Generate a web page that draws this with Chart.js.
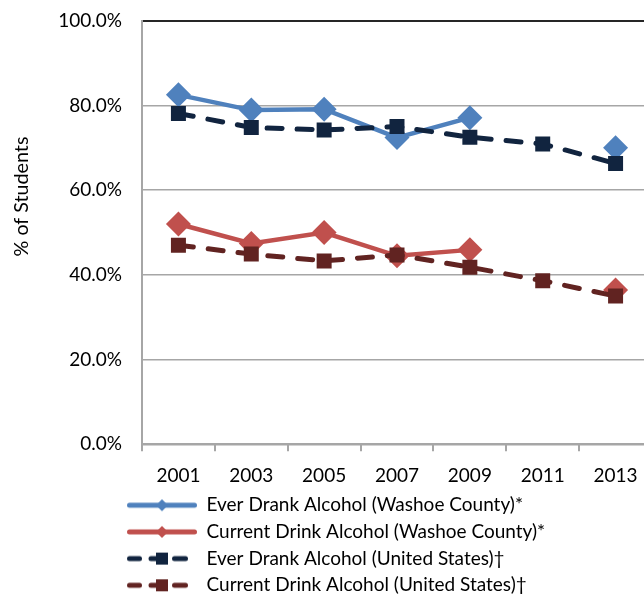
<!DOCTYPE html>
<html><head><meta charset="utf-8">
<script src="https://cdn.jsdelivr.net/npm/chart.js@4/dist/chart.umd.min.js"></script>
<style>
html,body{margin:0;padding:0;overflow:hidden;background:#fff;}
#wrap{position:relative;width:664px;height:594px;}
</style></head><body>
<div id="wrap"><canvas id="c" width="664" height="594"></canvas></div>
<script>
const years = ['2001','2003','2005','2007','2009','2011','2013'];
const washoeEver    = [82.5, 78.9, 79.1, 72.4, 77.1, null, 70.0];
const washoeCurrent = [52.0, 47.4, 50.0, 44.5, 45.9, null, 36.4];
const usEver        = [78.1, 74.8, 74.2, 75.0, 72.5, 70.9, 66.3];
const usCurrent     = [47.0, 44.9, 43.3, 44.7, 41.8, 38.6, 35.0];
const seriesNames = [
  'Ever Drank Alcohol (Washoe County)*',
  'Current Drink Alcohol (Washoe County)*',
  'Ever Drank Alcohol (United States)\u2020',
  'Current Drink Alcohol (United States)\u2020'
];
const yAxisTitle = '% of Students';

const FONT = 'Lato';
const C_BLUE = '#4F81BD', C_RED = '#C0504D', C_NAVY = '#11243F', C_MAROON = '#612321';

function makeSample(color, dashed) {
  const c = document.createElement('canvas');
  c.width = 70; c.height = 16;
  const g = c.getContext('2d');
  g.strokeStyle = color; g.fillStyle = color; g.lineWidth = 5; g.lineCap = 'round';
  const cy = 8;
  if (dashed) {
    [[2.5,12.5],[24,38],[47.5,58.5]].forEach(function(s){ g.beginPath(); g.moveTo(s[0],cy); g.lineTo(s[1],cy); g.stroke(); });
    g.fillRect(29, cy-6, 12, 12);
  } else {
    g.beginPath(); g.moveTo(2.5,cy); g.lineTo(67.5,cy); g.stroke();
    g.beginPath(); g.moveTo(35,cy-6); g.lineTo(41,cy); g.lineTo(35,cy+6); g.lineTo(29,cy); g.closePath(); g.fill();
  }
  return c;
}
const samples = [makeSample(C_BLUE,false), makeSample(C_RED,false), makeSample(C_NAVY,true), makeSample(C_MAROON,true)];

const tweak = {
  id: 'tweak',
  afterLayout(chart) {
    const lg = chart.legend;
    if (lg) {
      lg.left += 119.3; lg.right += 119.3;
      lg.top += -6; lg.bottom = 600; lg.height = lg.bottom - lg.top;
    }
    const ys = chart.scales.y;
    if (ys && !ys._shifted) {
      const orig = ys.drawTitle;
      ys.drawTitle = function() { const ctx = this.ctx; ctx.save(); ctx.translate(0, -36); orig.apply(this, arguments); ctx.restore(); };
      ys._shifted = true;
    }
  }
};

function solid(label, data, color, order) {
  return { label, data, borderColor: color, backgroundColor: color, borderWidth: 4.5, tension: 0,
    pointStyle: 'rectRot', pointRadius: 12.5, pointBorderWidth: 0, pointBackgroundColor: color,
    spanGaps: false, order };
}
function dashed(label, data, color, order) {
  return { label, data, borderColor: color, backgroundColor: color, borderWidth: 5, tension: 0,
    borderDash: [15, 15], borderCapStyle: 'round',
    pointStyle: 'rect', pointRadius: 10.6, pointBorderWidth: 0, pointBackgroundColor: color,
    spanGaps: false, order };
}

new Chart(document.getElementById('c'), {
  type: 'line',
  data: {
    labels: years,
    datasets: [
      solid(seriesNames[0], washoeEver, C_BLUE, 2),
      solid(seriesNames[1], washoeCurrent, C_RED, 2),
      dashed(seriesNames[2], usEver, C_NAVY, 1),
      dashed(seriesNames[3], usCurrent, C_MAROON, 1)
    ]
  },
  options: {
    responsive: false, animation: false, events: [],
    layout: { autoPadding: false, padding: { top: 20.7, right: 12, bottom: 0, left: 0 } },
    plugins: {
      tooltip: { enabled: false },
      legend: {
        position: 'bottom', align: 'start', maxHeight: 100,
        labels: {
          usePointStyle: true, pointStyleWidth: 70, boxHeight: 18, padding: 7.7,
          font: { family: FONT, size: 19 }, color: '#000',
          generateLabels: (chart) => chart.data.datasets.map((ds, i) => ({
            text: ds.label, pointStyle: samples[i], fillStyle: ds.borderColor,
            strokeStyle: ds.borderColor, lineWidth: 0, hidden: false, datasetIndex: i
          }))
        }
      }
    },
    scales: {
      x: {
        type: 'category', offset: true,
        afterFit: (s) => { s.height = 49.7; },
        grid: { offset: true, drawOnChartArea: false, drawTicks: true, tickLength: 7, color: '#A6A6A6', lineWidth: 2 },
        border: { display: true, color: '#A6A6A6', width: 2 },
        ticks: { font: { family: FONT, size: 19 }, color: '#000', padding: 13, maxRotation: 0, autoSkip: false }
      },
      y: {
        min: 0, max: 100,
        afterFit: (s) => { s.width = 142; },
        grid: {
          drawTicks: true, tickLength: 12, tickColor: 'rgba(0,0,0,0)',
          color: (c) => (c.tick && c.tick.value === 100) ? '#262626' : '#A6A6A6',
          lineWidth: (c) => (c.tick && c.tick.value === 100) ? 2 : 1.5
        },
        border: { display: true, color: '#A6A6A6', width: 2 },
        ticks: { stepSize: 20, padding: 8, font: { family: FONT, size: 19 }, color: '#000',
          callback: (v) => v.toFixed(1) + '%' },
        title: { display: true, text: yAxisTitle, font: { family: FONT, size: 19.7 }, color: '#000', padding: { top: 10, bottom: 0 } }
      }
    }
  },
  plugins: [tweak]
});
</script>
</body></html>
